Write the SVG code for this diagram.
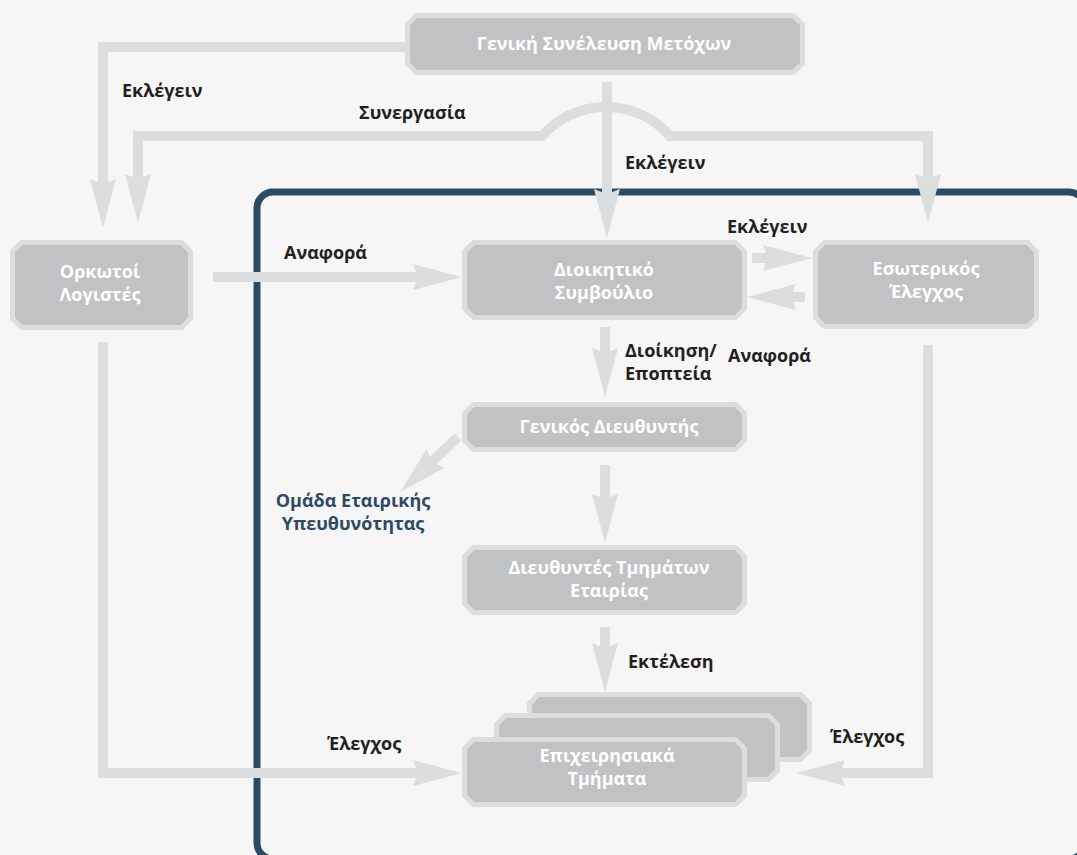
<svg xmlns="http://www.w3.org/2000/svg" width="1077" height="855" viewBox="0 0 1077 855">
<defs>
<style>
.node{fill:#c1c2c4;stroke:#dcdddf;stroke-width:5;stroke-linejoin:miter}
.nt{font-family:"Open Sans","Noto Sans","DejaVu Sans",sans-serif;font-weight:700;font-size:18px;fill:#ffffff;text-anchor:middle}
.lbl{font-family:"Open Sans","Noto Sans","DejaVu Sans",sans-serif;font-weight:700;font-size:18px;fill:#231f20}
.blue{fill:#2d4a65;text-anchor:middle}
.conn{fill:none;stroke:#dcdddf;stroke-width:10;stroke-linejoin:miter;marker-end:url(#ah)}
</style>
<marker id="ah" markerUnits="userSpaceOnUse" markerWidth="50" markerHeight="30" viewBox="0 -14 50 28" refX="5" refY="0" orient="auto-start-reverse">
<path d="M0,-13 L49,0 L0,13 L5,0 Z" fill="#dcdddf"/>
</marker>
</defs>
<rect width="1077" height="855" fill="#f6f6f6"/>
<rect id="frame" x="257" y="192" width="828" height="667" rx="16" ry="16" fill="none" stroke="#2d4a65" stroke-width="7"/>
<g id="connectors">
<path class="conn" d="M405,47 H103 V184"/>
<path class="conn" d="M138,179 V136 H542 A85,85 0 0 1 670,136 H928 V179" style="marker-start:url(#ah)"/>
<path class="conn" d="M607,82 V194"/>
<path class="conn" d="M213,277 H418"/>
<path class="conn" d="M752,258 H768"/>
<path class="conn" d="M805,297 H791"/>
<path class="conn" d="M605,327 V353"/>
<path class="conn" d="M458,437 L432,461.7"/>
<path class="conn" d="M605,465 V499"/>
<path class="conn" d="M605,627 V648"/>
<path class="conn" d="M103,342 V773 H418"/>
<path class="conn" d="M928,345 V773 H840"/>
</g>
<g id="labels">
<text class="lbl" x="122" y="97">Εκλέγειν</text>
<text class="lbl" x="359" y="119">Συνεργασία</text>
<text class="lbl" x="625" y="169">Εκλέγειν</text>
<text class="lbl" x="727" y="233">Εκλέγειν</text>
<text class="lbl" x="284" y="259">Αναφορά</text>
<text class="lbl" x="625" y="357">Διοίκηση/</text>
<text class="lbl" x="625" y="380">Εποπτεία</text>
<text class="lbl" x="728" y="362">Αναφορά</text>
<text class="lbl blue" x="353" y="507">Ομάδα Εταιρικής</text>
<text class="lbl blue" x="353" y="530">Υπευθυνότητας</text>
<text class="lbl" x="628" y="668">Εκτέλεση</text>
<text class="lbl" x="830" y="743">Έλεγχος</text>
<text class="lbl" x="327" y="750">Έλεγχος</text>
</g>
<g id="n-gsm">
<polygon class="node" points="416.5,15.5 793.5,15.5 802.5,24.5 802.5,63.5 793.5,72.5 416.5,72.5 407.5,63.5 407.5,24.5"/>
<text class="nt" x="604" y="50">Γενική Συνέλευση Μετόχων</text>
</g>
<g id="n-orkotoi">
<polygon class="node" points="21.5,242.5 181.5,242.5 190.5,251.5 190.5,318.5 181.5,327.5 21.5,327.5 12.5,318.5 12.5,251.5"/>
<text class="nt" x="100" y="278">Ορκωτοί</text>
<text class="nt" x="100" y="301">Λογιστές</text>
</g>
<g id="n-ds">
<polygon class="node" points="473.5,242.5 735.5,242.5 744.5,251.5 744.5,308.5 735.5,317.5 473.5,317.5 464.5,308.5 464.5,251.5"/>
<text class="nt" x="604" y="276">Διοικητικό</text>
<text class="nt" x="604" y="299">Συμβούλιο</text>
</g>
<g id="n-eso">
<polygon class="node" points="824.5,242.5 1027.5,242.5 1036.5,251.5 1036.5,317.5 1027.5,326.5 824.5,326.5 815.5,317.5 815.5,251.5"/>
<text class="nt" x="926" y="275">Εσωτερικός</text>
<text class="nt" x="926" y="298">Έλεγχος</text>
</g>
<g id="n-gd">
<polygon class="node" points="473.5,404.5 735.5,404.5 744.5,413.5 744.5,440.5 735.5,449.5 473.5,449.5 464.5,440.5 464.5,413.5"/>
<text class="nt" x="609" y="433">Γενικός Διευθυντής</text>
</g>
<g id="n-dt">
<polygon class="node" points="473.5,547.5 735.5,547.5 744.5,556.5 744.5,603.5 735.5,612.5 473.5,612.5 464.5,603.5 464.5,556.5"/>
<text class="nt" x="609" y="574">Διευθυντές Τμημάτων</text>
<text class="nt" x="609" y="597">Εταιρίας</text>
</g>
<g id="n-et">
<polygon class="node" points="538.5,694.5 800.5,694.5 809.5,703.5 809.5,750.5 800.5,759.5 538.5,759.5 529.5,750.5 529.5,703.5"/>
<polygon class="node" points="505.5,715.5 768.5,715.5 777.5,724.5 777.5,770.5 768.5,779.5 505.5,779.5 496.5,770.5 496.5,724.5"/>
<polygon class="node" points="473.5,739.5 735.5,739.5 744.5,748.5 744.5,795.5 735.5,804.5 473.5,804.5 464.5,795.5 464.5,748.5"/>
<text class="nt" x="607" y="762">Επιχειρησιακά</text>
<text class="nt" x="607" y="785">Τμήματα</text>
</g>
</svg>
